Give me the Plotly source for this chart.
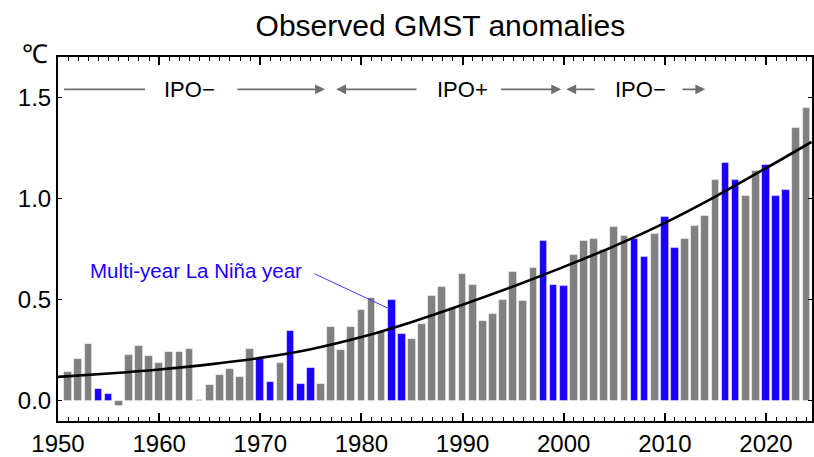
import plotly.graph_objects as go

# ---- data ----
years = list(range(1951, 2025))
anomalies = [
    0.144, 0.205, 0.279, 0.059, 0.032, -0.025, 0.225, 0.269, 0.221, 0.188,
    0.240, 0.243, 0.257, 0.003, 0.079, 0.129, 0.155, 0.116, 0.256, 0.208,
    0.094, 0.185, 0.345, 0.084, 0.163, 0.084, 0.366, 0.252, 0.366, 0.447,
    0.508, 0.342, 0.500, 0.330, 0.307, 0.380, 0.520, 0.565, 0.460, 0.625,
    0.573, 0.393, 0.430, 0.500, 0.636, 0.495, 0.655, 0.790, 0.573, 0.568,
    0.720, 0.790, 0.800, 0.745, 0.858, 0.813, 0.800, 0.713, 0.825, 0.909,
    0.754, 0.802, 0.863, 0.914, 1.093, 1.177, 1.093, 1.012, 1.137, 1.165,
    1.013, 1.043, 1.348, 1.449,
]
la_nina_years = [1954, 1955, 1970, 1971, 1973, 1974, 1975, 1983, 1984,
                 1998, 1999, 2000, 2007, 2008, 2010, 2011, 2016, 2017,
                 2020, 2021, 2022]

trend_years = [1950, 1955, 1960, 1965, 1970, 1975, 1980, 1985, 1990,
               1995, 2000, 2005, 2010, 2015, 2020, 2024.5]
trend_values = [0.118, 0.135, 0.155, 0.180, 0.212, 0.255, 0.315, 0.390,
                0.475, 0.565, 0.662, 0.765, 0.880, 1.010, 1.150, 1.280]

y_ticks = [0.0, 0.5, 1.0, 1.5]
x_ticks = [1950, 1960, 1970, 1980, 1990, 2000, 2010, 2020]

# IPO phase arrows: (tail, head, has_head)
ipo_arrows = [(1950.45, 1958.6, False), (1967.6, 1976.4, True),
              (1985.6, 1977.5, True), (1993.65, 1999.75, True),
              (2003.2, 2000.25, True), (2011.6, 2014.0, True)]
ipo_labels = ["IPO\u2212", "IPO+", "IPO\u2212"]
ipo_label_x = [1963.0, 1989.95, 2007.6]
ipo_y = 1.54

GREY = "#808080"
BLUE = "#1a00ff"
FONT = "Arial, Liberation Sans, sans-serif"

colors = [BLUE if y in la_nina_years else GREY for y in years]

fig = go.Figure()
fig.add_trace(go.Bar(
    x=years, y=anomalies, width=0.76,
    marker=dict(color=colors, line=dict(color="rgba(255,255,255,0.6)", width=0.8)),
    showlegend=False,
))
fig.add_trace(go.Scatter(
    x=trend_years, y=trend_values, mode="lines",
    line=dict(color="black", width=2.6, shape="spline", smoothing=1.0),
    showlegend=False,
))

annotations = []
for tail, head, has_head in ipo_arrows:
    annotations.append(dict(
        x=head, y=ipo_y, ax=tail, ay=ipo_y, xref="x", yref="y",
        axref="x", ayref="y", text="", showarrow=True,
        arrowhead=2 if has_head else 0, arrowsize=1.1, arrowwidth=1.8,
        arrowcolor="#6e6e6e",
    ))
for lbl, lx in zip(ipo_labels, ipo_label_x):
    annotations.append(dict(
        x=lx, y=ipo_y, xref="x", yref="y", text=lbl, showarrow=False,
        font=dict(family=FONT, size=22, color="black"),
    ))

# La Nina label with leader line
annotations.append(dict(
    x=1982.75, y=0.455, ax=1975.2, ay=0.632, xref="x", yref="y",
    axref="x", ayref="y", text="", showarrow=True, arrowhead=0,
    arrowwidth=1, arrowcolor="#3a3aff",
))
annotations.append(dict(
    x=1963.6, y=0.645, xref="x", yref="y", text="Multi-year La Ni\u00f1a year",
    showarrow=False, font=dict(family=FONT, size=20.5, color=BLUE),
))
annotations.append(dict(
    x=-0.03, y=1.008, xref="paper", yref="paper", text="\u2103",
    showarrow=False, font=dict(family=FONT, size=26, color="black"),
    xanchor="center", yanchor="middle",
))

fig.update_layout(
    width=814, height=457,
    margin=dict(l=58, r=0, t=57, b=36),
    paper_bgcolor="white", plot_bgcolor="white",
    title=dict(text="Observed GMST anomalies", x=0.541, xanchor="center",
               y=0.945, yanchor="middle", xref="container", yref="container",
               font=dict(family=FONT, size=30, color="black")),
    font=dict(family=FONT, color="black"),
    annotations=annotations,
    bargap=0,
)
fig.update_xaxes(
    range=[1950, 2024.55], tickvals=x_ticks, ticks="inside", ticklen=8,
    tickwidth=2.2, tickcolor="black", showline=True, linecolor="black",
    linewidth=2, mirror="ticks", showgrid=False, zeroline=False,
    tickfont=dict(family=FONT, size=24, color="black"),
    minor=dict(dtick=1, ticks="inside", ticklen=4, tickwidth=1, tickcolor="black"),
)
fig.update_yaxes(
    range=[-0.1, 1.7], tickvals=y_ticks, tickformat=".1f", ticks="inside",
    ticklen=4, tickwidth=1, tickcolor="black", showline=True,
    linecolor="black", linewidth=2, mirror="ticks", showgrid=False,
    zeroline=False, tickfont=dict(family=FONT, size=24, color="black"),
)

fig.write_html("out.html")
